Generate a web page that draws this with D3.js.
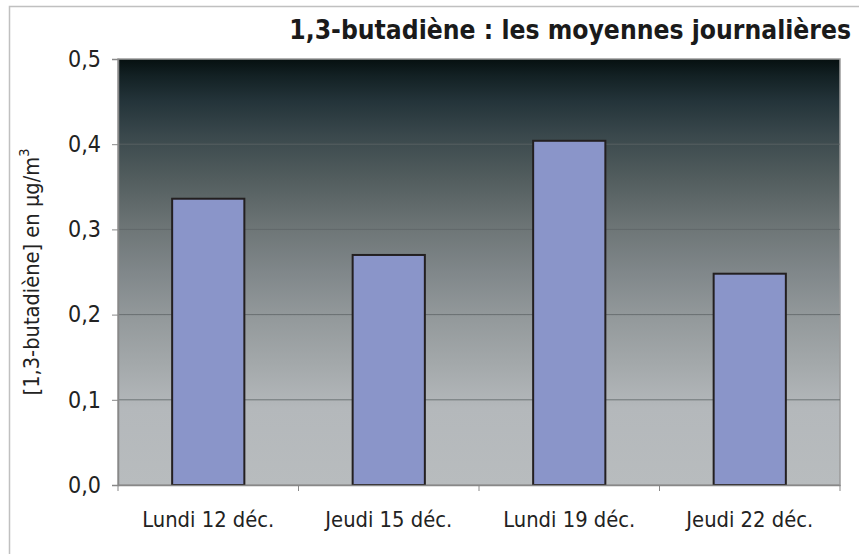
<!DOCTYPE html>
<html><head><meta charset="utf-8">
<script src="https://cdn.jsdelivr.net/npm/d3@7"></script>
<style>body{margin:0;background:#fff}</style>
</head><body>
<svg id="c" width="859" height="554"></svg>
<script>
const categories = ["Lundi 12 déc.", "Jeudi 15 déc.", "Lundi 19 déc.", "Jeudi 22 déc."];
const values = [0.336, 0.270, 0.404, 0.248];
const yTicks = [0, 0.1, 0.2, 0.3, 0.4, 0.5];
const title = "1,3-butadiène : les moyennes journalières";

const svg = d3.select("#c");
const font = "'DejaVu Sans Condensed', 'DejaVu Sans', sans-serif";
const m = {left:118, right:840, top:59, bottom:485};

function fit(sel, target) {
  const n = sel.node(); const w = n.getComputedTextLength();
  if (w > 0) { const fs = parseFloat(sel.attr("font-size")); sel.attr("font-size", fs*target/w); }
}

svg.append("rect").attr("x",9.5).attr("y",6.5).attr("width",870).attr("height",570)
  .attr("fill","#fff").attr("stroke","#c0c0c0").attr("stroke-width",1.5);

const defs = svg.append("defs");
const g = defs.append("linearGradient").attr("id","bg").attr("x1",0).attr("y1",0).attr("x2",0).attr("y2",1);
[[0,"#061010"],[0.04,"#132124"],[0.1,"#24343a"],[0.18,"#3a484c"],[0.28,"#525d5e"],
 [0.4,"#6e7677"],[0.5,"#80878a"],[0.6,"#92989a"],[0.72,"#a4a9ab"],[0.82,"#b4b8bb"],[1,"#b8bcbe"]]
 .forEach(([o,c])=>g.append("stop").attr("offset",o).attr("stop-color",c));

const x = d3.scaleBand().domain(categories).range([m.left,m.right]).paddingInner(0.6).paddingOuter(0.3);
const y = d3.scaleLinear().domain([0,0.5]).range([m.bottom,m.top]);

svg.append("rect").attr("x",m.left).attr("y",m.top).attr("width",m.right-m.left).attr("height",m.bottom-m.top)
  .attr("fill","url(#bg)").attr("stroke","#9a9a9a").attr("stroke-width",1.5);

svg.append("g").selectAll("line").data(yTicks.filter(d=>d>0&&d<0.5)).join("line")
  .attr("x1",m.left).attr("x2",m.right).attr("y1",d=>y(d)).attr("y2",d=>y(d))
  .attr("stroke","#5f6667").attr("stroke-width",1).attr("opacity",0.8);

svg.append("g").selectAll("rect").data(values).join("rect")
  .attr("x",(d,i)=>x(categories[i])).attr("width",x.bandwidth())
  .attr("y",d=>y(d)).attr("height",d=>y(0)-y(d))
  .attr("fill","#8a95c9").attr("stroke","#231f20").attr("stroke-width",2);

const ya = svg.append("g").attr("transform",`translate(${m.left},0)`)
  .call(d3.axisLeft(y).tickValues(yTicks).tickSize(6).tickPadding(11)
    .tickFormat(d=>d3.format(".1f")(d).replace(".",",")));
ya.select(".domain").attr("stroke","#888").attr("stroke-width",1.5);
ya.selectAll(".tick line").attr("stroke","#888");
ya.selectAll("text").attr("font-family",font).attr("font-size",19).attr("fill","#222");
fit(ya.select(".tick text"), 33);
ya.selectAll("text").attr("font-size", ya.select(".tick text").attr("font-size"));

const xa = svg.append("g").attr("transform",`translate(0,${m.bottom})`)
  .call(d3.axisBottom(x).tickSize(0).tickPadding(27));
xa.select(".domain").attr("stroke","#888").attr("stroke-width",1.5);
xa.selectAll("text").attr("font-family",font).attr("font-size",18).attr("fill","#222");
fit(xa.select(".tick text"), 132);
xa.selectAll("text").attr("font-size", xa.select(".tick text").attr("font-size"));
const bounds = [m.left, ...categories.map(c=>x(c)+x.bandwidth()/2+x.step()/2)];
svg.append("g").selectAll("line").data(bounds).join("line")
  .attr("x1",d=>d).attr("x2",d=>d).attr("y1",m.bottom).attr("y2",m.bottom+6)
  .attr("stroke","#888");

const yt = svg.append("text").attr("transform","translate(39,272) rotate(-90)")
  .attr("text-anchor","middle").attr("font-family",font).attr("font-size",18).attr("fill","#222");
yt.append("tspan").text("[1,3-butadiène] en µg/m");
yt.append("tspan").attr("font-size",12).attr("dy",-8).text("3");
{ const w = yt.node().getComputedTextLength(); if (w>0) { const k = 247/w; yt.attr("font-size", 18*k); yt.select("tspan:last-child").attr("font-size",12*k).attr("dy",-8*k); } }

const t = svg.append("text").attr("x",851).attr("y",39).attr("text-anchor","end")
  .attr("font-family",font).attr("font-weight","bold").attr("font-size",22).attr("fill","#1a1a1a")
  .text(title);
fit(t, 562);
</script>
</body></html>
